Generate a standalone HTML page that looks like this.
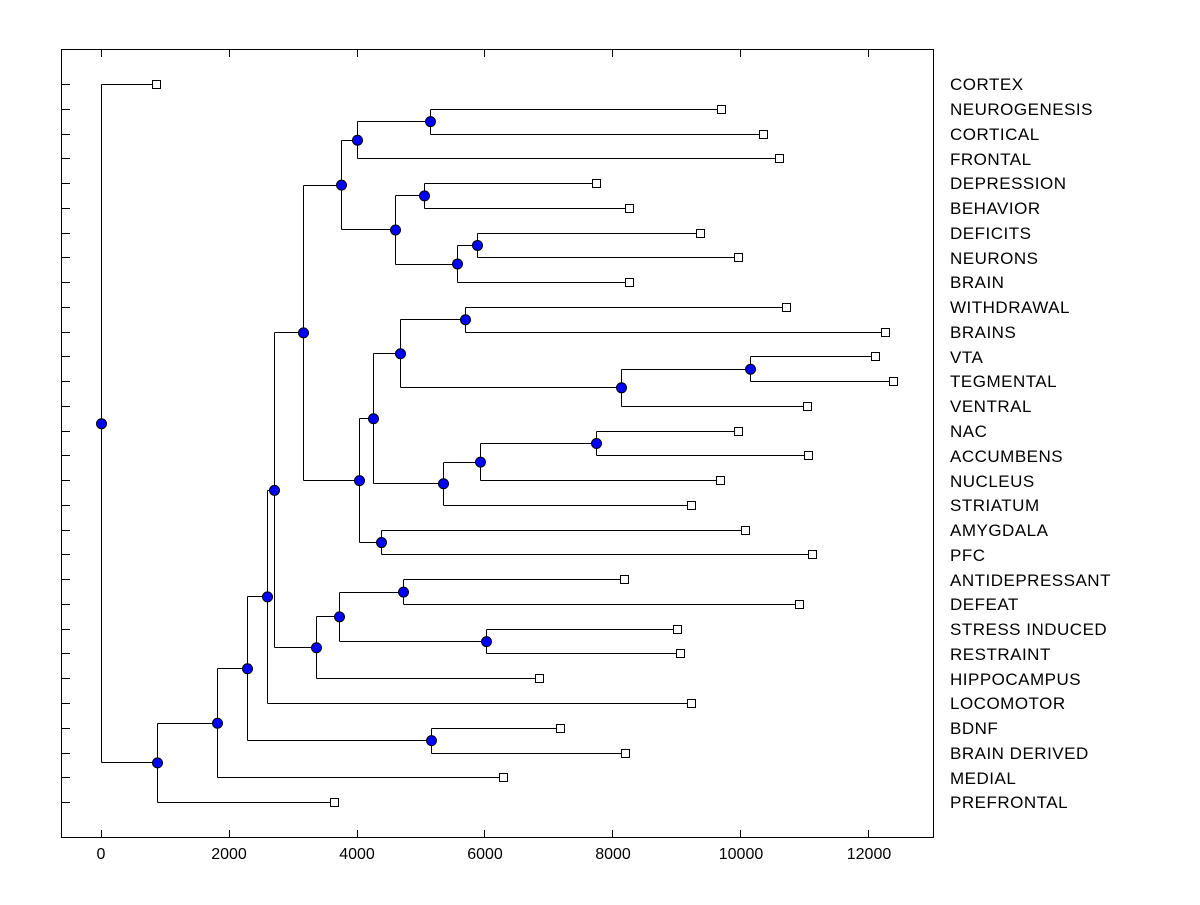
<!DOCTYPE html>
<html><head><meta charset="utf-8"><style>
html,body{margin:0;padding:0;background:#fff}
svg text{font-family:"Liberation Sans",Arial,sans-serif;font-size:16px;fill:#000}
#labels text{font-size:17px;letter-spacing:0.5px}
</style></head><body>
<svg id="s" width="1200" height="900" xmlns="http://www.w3.org/2000/svg">
<rect x="61.5" y="49.5" width="872" height="788" fill="none" stroke="#000" stroke-width="1"/>
<g id="lines" stroke="#000" stroke-width="1" fill="none" shape-rendering="crispEdges"></g>
<g id="marks"></g>
<g text-anchor="middle">
<text x="101" y="859">0</text>
<text x="229" y="859">2000</text>
<text x="357" y="859">4000</text>
<text x="485" y="859">6000</text>
<text x="613" y="859">8000</text>
<text x="741" y="859">10000</text>
<text x="869" y="859">12000</text>
</g>
<g id="labels">
<text x="950" y="90">CORTEX</text>
<text x="950" y="115">NEUROGENESIS</text>
<text x="950" y="140">CORTICAL</text>
<text x="950" y="165">FRONTAL</text>
<text x="950" y="189">DEPRESSION</text>
<text x="950" y="214">BEHAVIOR</text>
<text x="950" y="239">DEFICITS</text>
<text x="950" y="264">NEURONS</text>
<text x="950" y="288">BRAIN</text>
<text x="950" y="313">WITHDRAWAL</text>
<text x="950" y="338">BRAINS</text>
<text x="950" y="363">VTA</text>
<text x="950" y="387">TEGMENTAL</text>
<text x="950" y="412">VENTRAL</text>
<text x="950" y="437">NAC</text>
<text x="950" y="462">ACCUMBENS</text>
<text x="950" y="487">NUCLEUS</text>
<text x="950" y="511">STRIATUM</text>
<text x="950" y="536">AMYGDALA</text>
<text x="950" y="561">PFC</text>
<text x="950" y="586">ANTIDEPRESSANT</text>
<text x="950" y="610">DEFEAT</text>
<text x="950" y="635">STRESS INDUCED</text>
<text x="950" y="660">RESTRAINT</text>
<text x="950" y="685">HIPPOCAMPUS</text>
<text x="950" y="709">LOCOMOTOR</text>
<text x="950" y="734">BDNF</text>
<text x="950" y="759">BRAIN DERIVED</text>
<text x="950" y="784">MEDIAL</text>
<text x="950" y="808">PREFRONTAL</text>
</g>
</svg>
<script>
var NS="http://www.w3.org/2000/svg";
var L=document.getElementById('lines'),M=document.getElementById('marks');
function el(p,t,a){var e=document.createElementNS(NS,t);for(var k in a)e.setAttribute(k,a[k]);p.appendChild(e);return e;}
function ln(x1,y1,x2,y2){el(L,'line',{x1:x1,y1:y1,x2:x2,y2:y2});}
for(var i=0;i<30;i++){var y=Math.round(84+24.76*i)+0.5;ln(61.5,y,70,y);}
for(var v=0;v<=12000;v+=2000){var x=Math.round(101+v*0.0639)+0.5;ln(x,49.5,x,57);ln(x,830,x,837.5);}
var leafX=[157,722,764,780,597,630,701,739,630,787,886,876,894,808,739,809,721,692,746,813,625,800,678,681,540,692,561,626,504,335];
function lf(i){return {x:leafX[i],y:84+24.76*i,leaf:1};}
function n(x,a,b){return {x:x,c:[a,b],y:(a.y+b.y)/2};}
var P=n(430,lf(1),lf(2)),N=n(357,P,lf(3));
var Q=n(424,lf(4),lf(5)),S=n(477,lf(6),lf(7)),R=n(457,S,lf(8)),O=n(395,Q,R),Lx=n(341,N,O);
var X=n(465,lf(9),lf(10)),Z=n(750,lf(11),lf(12)),Y=n(621,Z,lf(13)),V=n(400,X,Y);
var BB=n(596,lf(14),lf(15)),AA=n(480,BB,lf(16)),W=n(443,AA,lf(17)),T=n(373,V,W);
var U=n(381,lf(18),lf(19)),Mn=n(359,T,U),G=n(303,Lx,Mn);
var J=n(403,lf(20),lf(21)),K=n(486,lf(22),lf(23)),I=n(339,J,K),H=n(316,I,lf(24));
var F=n(274,G,H),D=n(267,F,lf(25)),E=n(431,lf(26),lf(27)),C=n(247,D,E),B=n(217,C,lf(28)),A=n(157,B,lf(29)),root=n(101,lf(0),A);
var nodes=[],leaves=[];
function draw(nd){
 if(nd.leaf){leaves.push(nd);return;}
 var a=nd.c[0],b=nd.c[1],x=Math.round(nd.x)+0.5;
 ln(x,Math.round(a.y)+0.5,x,Math.round(b.y)+0.5);
 ln(x,Math.round(a.y)+0.5,a.x,Math.round(a.y)+0.5);
 ln(x,Math.round(b.y)+0.5,b.x,Math.round(b.y)+0.5);
 draw(a);draw(b);nodes.push(nd);
}
draw(root);
leaves.forEach(function(l){el(M,'rect',{x:Math.round(l.x)-4.5,y:Math.round(l.y)-3.5,width:8,height:8,fill:'#fff',stroke:'#000','stroke-width':1});});
nodes.forEach(function(d){el(M,'circle',{cx:Math.round(d.x)+0.5,cy:d.y+0.5,r:5,fill:'#0000ff',stroke:'#000','stroke-width':1});});
</script>
</body></html>
